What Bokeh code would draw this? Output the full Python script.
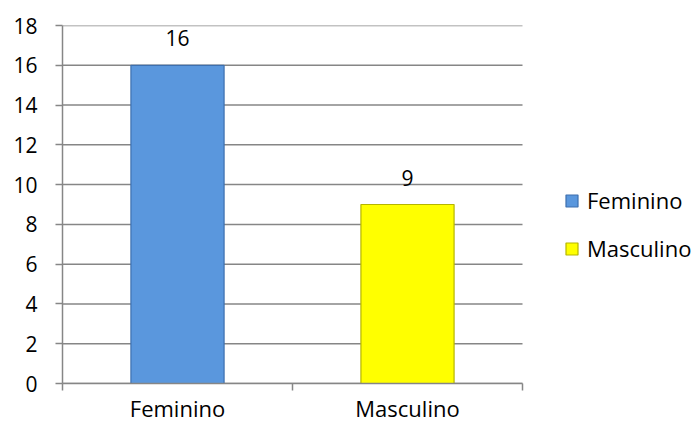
from bokeh.plotting import figure
from bokeh.models import (ColumnDataSource, FixedTicker, Range1d, Legend, LegendItem)
from bokeh.embed import file_html
from bokeh.resources import INLINE
from bokeh.core.properties import value

categories = ["Feminino", "Masculino"]
counts = [16, 9]
fill_colors = ["#5A97DD", "#FFFF00"]
edge_colors = ["#3D6FAE", "#B5B500"]
y_ticks = [0, 2, 4, 6, 8, 10, 12, 14, 16, 18]

FONT = "Open Sans"
GRID = "#868686"

n = len(categories)
xs = [i + 0.5 for i in range(n)]
src = ColumnDataSource(dict(x=xs, top=counts, cat=categories,
                            label=[str(v) for v in counts]))

# plot area spans 460px for the categories; the frame extends to the right
# edge so that the legend can live inside it
W, H = 698, 425
LEFT, PLOT_W = 62, 460
x_end = n * (W - LEFT) / PLOT_W

p = figure(width=W, height=H, output_backend="svg", toolbar_location=None,
           x_range=Range1d(0, x_end), y_range=Range1d(0, 18),
           min_border_left=LEFT, min_border_right=0, min_border_top=25,
           min_border_bottom=42)
p.outline_line_color = None
p.background_fill_color = "white"
p.border_fill_color = "white"

# horizontal grid lines limited to the category area
p.segment(x0=[0] * len(y_ticks), x1=[n] * len(y_ticks), y0=y_ticks, y1=y_ticks,
          line_color=GRID, line_width=1.5, level="underlay")

renderers = []
for i, c in enumerate(categories):
    r = p.vbar(x=[xs[i]], top=[counts[i]], width=0.405, bottom=0,
               fill_color=fill_colors[i], line_color=edge_colors[i], line_width=1.2)
    renderers.append(r)

p.text(x="x", y="top", text="label", source=src, text_align="center",
       text_baseline="alphabetic", y_offset=-27, text_font=value(FONT),
       text_font_size="21px", text_color="black")

# y axis
p.yaxis.ticker = FixedTicker(ticks=y_ticks)
p.yaxis.axis_line_color = GRID
p.yaxis.axis_line_width = 1.5
p.yaxis.major_tick_line_color = GRID
p.yaxis.major_tick_line_width = 1.5
p.yaxis.major_tick_out = 7
p.yaxis.major_tick_in = 0
p.yaxis.minor_tick_line_color = None
p.yaxis.major_label_standoff = 18
p.yaxis.major_label_text_font = FONT
p.yaxis.major_label_text_font_size = "21px"
p.yaxis.major_label_text_color = "black"

# x axis
p.xaxis.bounds = (0, n)
p.xaxis.ticker = FixedTicker(ticks=xs, minor_ticks=list(range(n + 1)))
p.xaxis.major_label_overrides = {xs[i]: c for i, c in enumerate(categories)}
p.xaxis.axis_line_color = GRID
p.xaxis.axis_line_width = 1.5
p.xaxis.major_tick_line_color = None
p.xaxis.major_tick_out = 0
p.xaxis.major_tick_in = 0
p.xaxis.minor_tick_line_color = GRID
p.xaxis.minor_tick_line_width = 1.5
p.xaxis.minor_tick_out = 7
p.xaxis.minor_tick_in = 0
p.xaxis.major_label_standoff = 2
p.xaxis.major_label_text_font = FONT
p.xaxis.major_label_text_font_size = "22px"
p.xaxis.major_label_text_color = "black"

p.xgrid.grid_line_color = None
p.ygrid.grid_line_color = None

legend = Legend(items=[LegendItem(label=c, renderers=[renderers[i]]) for i, c in enumerate(categories)],
                location=(502, 120), padding=0, margin=0, border_line_color=None,
                background_fill_alpha=0, glyph_width=15, glyph_height=15,
                label_height=20, spacing=18, label_standoff=8,
                label_text_font=FONT, label_text_font_size="22px",
                label_text_color="black")
p.add_layout(legend, "center")

open("out.html", "w").write(file_html(p, INLINE))
